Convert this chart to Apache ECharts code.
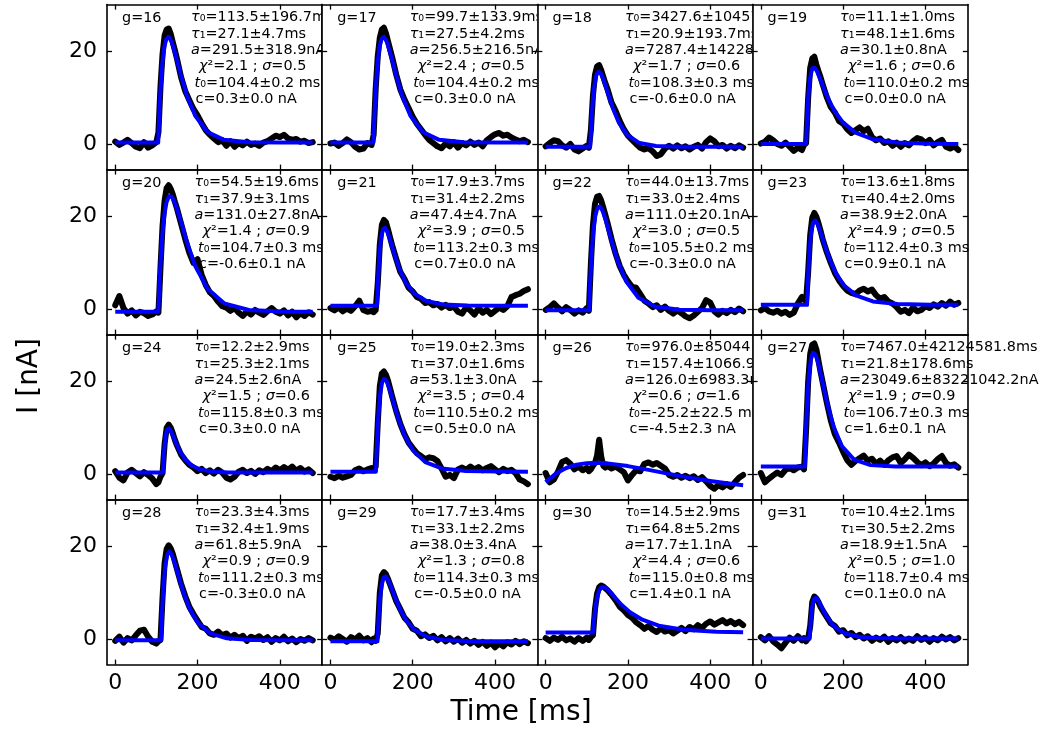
<!DOCTYPE html>
<html><head><meta charset="utf-8">
<script src="https://cdn.jsdelivr.net/npm/echarts@6/dist/echarts.min.js"></script>
<style>html,body{margin:0;padding:0;background:#fff}#c{width:1042px;height:731px}</style>
</head><body><div id="c"></div>
<script>
// ---- sample times (ms) shared by all measured traces ----
const times = [0,10,20,30,40,50,60,70,80,90,100,105,110,115,120,125,130,135,140,145,150,160,170,180,190,200,210,220,230,240,250,260,270,280,290,300,310,320,330,340,350,360,370,380,390,400,410,420,430,440,450,460,470,480];
const xTicks = [0,200,400];
const yTicks = [0,20];
const gNames = ['g=16','g=17','g=18','g=19','g=20','g=21','g=22','g=23','g=24','g=25','g=26','g=27','g=28','g=29','g=30','g=31'];

const d16 = [0.5,-0.2,0.3,0.9,0.2,-0.6,-0.9,0.4,-0.8,-0.3,0.4, 2.5,12.5,19.5,23.5,24.8,25.0,23.8,22.0,20.3,18.5, 14.5,11.5,9.5,7.6,6.2,4.5,3.0,2.0,1.2,0.4,0.8,-0.4,0.6,-0.6,0.2,-0.3,0.5,-0.2,0.1,-0.4,0.3,0.6,1.2,1.8,1.5,2.0,1.2,0.9,1.1,0.5,0.7,0.2,0.4];
const d17 = [0.1,0.3,-0.4,0.2,1.0,0.4,-0.6,-1.2,-1.0,0.2,-0.2, 2.0,12.0,19.0,23.0,24.8,25.2,24.0,22.2,20.5,18.8, 15.0,11.8,9.6,7.8,5.9,4.4,3.2,2.0,0.9,0.2,-0.5,-0.9,0.1,-0.5,0.4,-0.8,0.2,-0.3,0.5,-0.2,0.3,-0.5,0.8,1.5,2.1,2.4,1.8,2.0,1.4,1.0,0.6,0.9,0.4];
const d18 = [-0.5,0.2,0.8,0.6,-0.3,-0.8,0.0,-1.2,-1.6,-1.0,-0.4, -0.8,3.0,10.5,15.0,16.8,17.1,16.0,14.6,13.2,12.0, 9.0,7.2,5.0,3.2,1.8,0.9,0.0,-0.8,-1.2,-0.9,-1.6,-2.6,-2.2,-1.0,-0.4,-1.0,-0.3,-0.9,-0.5,-1.2,-0.6,-0.2,-1.0,0.4,1.2,0.6,-0.5,-0.2,-1.0,-0.4,-0.9,-0.3,-0.8];
const d19 = [0.1,0.5,1.4,0.8,0.0,-0.4,0.3,-0.6,-1.5,-0.8,-1.3, -0.2,0.2,10.0,16.5,18.5,18.9,17.2,15.8,14.5,13.0, 10.2,8.0,6.8,5.0,4.4,3.2,2.4,3.0,3.6,2.8,3.3,1.5,0.8,1.2,0.2,0.6,-0.4,0.3,-0.6,0.2,-0.3,0.6,1.3,1.0,0.2,0.9,-0.3,0.4,0.9,-0.6,-1.0,-0.5,-1.3];
const d20 = [0.8,2.8,0.2,-1.0,-0.3,-1.4,-0.6,-0.9,-1.5,-1.2,-0.5, -0.8,9.0,18.0,23.5,26.2,26.8,26.0,24.8,23.2,21.8, 18.5,15.2,12.2,10.0,10.8,7.4,5.2,3.6,2.8,1.6,0.6,0.3,-0.4,0.2,-0.8,-1.5,-0.5,-1.2,-0.2,-0.8,-1.3,-0.5,0.2,-0.6,-1.0,-0.3,-1.4,-0.6,-1.8,-0.9,-1.5,-0.7,-1.2];
const d21 = [0.2,-0.3,0.3,-0.5,0.1,-0.4,0.6,1.8,-0.2,-0.6,-0.4, -0.7,-0.2,5.5,14.0,18.2,19.3,18.8,17.2,15.5,13.8, 10.8,8.0,6.5,4.6,3.8,2.6,2.2,1.3,1.5,0.8,1.1,0.3,0.9,0.2,0.5,-0.6,-1.0,0.4,-0.3,-1.2,0.2,-0.8,-0.2,-1.1,-0.4,0.3,-0.2,0.6,2.6,3.0,3.3,3.9,4.3];
const d22 = [-0.2,0.4,1.2,0.3,-0.5,0.4,-0.2,-1.0,-0.3,-0.8,0.2, -0.4,9.8,18.2,22.8,24.3,24.5,23.5,22.0,20.4,18.8, 15.2,12.0,9.3,7.4,6.0,4.8,4.6,3.2,1.8,1.2,0.4,0.8,-0.2,0.5,-0.4,-1.0,-0.3,-0.9,-1.6,-2.0,-1.4,-0.6,0.2,1.9,1.4,-0.5,-1.2,-0.4,-0.9,-0.2,-0.7,0.1,-0.5];
const d23 = [-0.3,0.2,-0.5,-0.8,-0.4,-1.0,-0.6,-1.3,-0.8,1.2,2.6, 2.0,1.8,8.0,16.0,19.8,20.8,20.0,18.6,17.0,15.2, 12.4,10.0,7.8,6.2,5.0,4.0,3.5,3.2,4.0,4.4,3.8,4.2,3.0,2.2,2.6,1.6,1.2,0.4,-0.6,-0.2,-0.9,0.3,-0.5,-0.2,0.6,0.2,1.0,0.5,1.3,0.7,1.6,0.9,1.3];
const d24 = [0.6,-0.8,-1.4,0.3,0.9,0.2,-0.5,0.4,-0.2,-1.0,-2.2, -1.8,-0.6,0.2,6.5,10.0,10.7,10.0,8.8,7.4,6.2, 4.2,3.0,2.0,1.4,0.6,1.1,0.2,0.8,0.1,0.9,0.3,-0.8,-1.2,-0.6,0.5,0.9,0.2,0.7,0.0,0.8,0.4,1.1,0.6,1.4,0.8,1.5,0.9,1.6,0.7,1.3,0.5,1.0,0.2];
const d25 = [-0.6,-0.9,-0.4,-0.8,-0.5,-0.2,0.8,1.2,0.6,1.0,1.3, 0.9,1.6,11.0,19.0,21.8,22.2,21.5,20.2,18.5,16.8, 13.6,10.8,8.6,6.8,5.6,4.5,3.9,3.2,3.6,3.4,2.8,1.2,-0.6,-0.2,-0.9,1.0,1.4,0.9,1.6,1.0,1.5,0.8,1.3,1.7,1.0,0.4,1.1,0.6,0.9,0.2,-1.2,-1.6,-2.2];
const d26 = [0.2,-1.8,-1.2,0.5,2.6,3.0,2.2,1.0,1.6,0.8,1.3, 0.6,1.0,1.8,2.4,4.0,7.4,3.8,1.8,1.4,1.8, 1.2,1.6,1.0,0.4,-1.4,-0.2,0.8,0.6,2.2,2.5,2.0,2.4,1.8,1.2,-0.2,-0.6,-0.2,-0.8,-0.4,-0.9,-0.5,-1.3,-0.7,-1.6,-2.6,-3.2,-2.4,-2.9,-2.2,-2.8,-1.8,-0.8,-0.2];
const d27 = [0.2,-1.8,-1.0,-0.3,0.3,-0.2,0.9,1.3,0.8,1.4,1.6, 1.0,9.5,20.0,26.0,28.0,28.3,27.0,24.6,22.2,20.0, 15.6,11.6,8.6,6.8,4.8,3.0,2.0,2.8,3.4,4.0,2.9,3.3,2.2,2.9,2.0,3.0,3.6,3.9,2.4,3.2,4.2,3.5,2.6,1.9,2.5,1.7,2.3,3.2,3.9,2.4,1.8,2.1,1.4];
const d28 = [-0.4,0.5,-0.8,0.2,-0.3,0.8,1.8,2.0,0.5,-0.6,-1.0, -0.5,-0.2,9.0,16.5,19.5,20.3,19.6,18.4,16.8,15.2, 12.0,9.3,7.0,5.4,4.0,2.6,2.2,1.2,0.9,1.6,0.8,1.2,0.3,0.9,0.2,0.7,-0.4,0.5,0.1,0.6,-0.2,0.4,-0.6,0.2,-0.3,0.5,-0.5,0.1,-0.7,0.0,-0.4,0.2,-0.3];
const d29 = [0.3,-0.2,0.6,0.0,-0.6,0.4,-0.1,0.7,-0.3,0.2,-0.7, 0.1,-0.4,1.2,10.0,13.8,14.5,14.0,13.0,11.8,10.6, 8.2,6.4,4.6,3.6,2.2,1.8,0.6,1.0,0.2,0.7,-0.3,0.4,-0.5,0.2,-0.6,0.1,-0.8,-0.2,-1.0,-0.4,-1.3,-0.6,-1.5,-0.8,-1.8,-1.0,-1.6,-0.7,-1.2,-0.4,-1.1,-0.5,-0.9];
const d30 = [0.2,-0.4,0.3,-0.2,0.5,-0.3,0.1,-0.6,0.2,-0.4,0.3, -0.2,0.4,0.8,6.5,9.8,11.2,11.6,11.4,11.0,10.6, 9.6,8.4,7.0,6.2,5.2,4.6,3.6,3.0,2.2,2.8,2.0,1.5,2.3,1.6,1.9,1.2,1.8,2.4,1.7,2.6,2.1,3.0,2.4,3.3,3.8,3.1,3.6,4.1,3.4,3.9,3.2,3.7,3.0];
const d31 = [0.4,-0.3,0.6,-0.5,-1.2,-2.0,-0.8,0.3,-0.4,0.6,-0.3, 0.2,-0.5,0.1,2.8,8.0,9.2,8.8,8.0,7.0,6.2, 4.8,3.4,2.8,1.6,1.9,0.8,1.3,0.4,0.9,0.1,0.6,-0.4,0.3,-0.2,0.5,-0.6,0.2,-0.3,0.4,-0.5,0.1,-0.4,0.6,-0.2,0.3,-0.6,0.2,-0.3,0.5,-0.1,0.4,-0.3,0.2];

// ---- fitted curves (blue), values read at t0 + offset, last value at t=480 ----
const fitOffsets = [0,3,6,10,15,20,26,33,42,55,70,90,120,160,220,300];
const fitEnd = 480;
const fitT0 = [104.4,104.4,108.3,110.0,104.7,113.2,105.5,112.4,115.8,110.5,-25.2,106.7,111.2,114.3,115.0,118.7];
const f16 = [0.3,7.1,12.3,17.3,21.05,22.8,23.2,22.1,19.4,15.0,10.4,6.1,2.6,0.9,0.37,0.3,0.3];
const f17 = [0.3,7.1,12.3,17.3,21.1,22.8,23.2,22.1,19.4,15.0,10.4,6.1,2.6,0.9,0.38,0.3,0.3];
const f18 = [-0.6,4.92,8.97,12.56,14.93,15.68,15.27,13.8,11.29,7.75,4.57,1.95,0.2,-0.44,-0.59,-0.6,-0.6];
const f19 = [0,6.7,11.1,14.52,16.33,16.58,15.85,14.38,12.28,9.53,7.01,4.63,2.48,1.08,0.31,0.06,0.01];
const f20 = [-0.6,5.88,11.05,16.26,20.62,23.14,24.43,24.31,22.64,18.91,14.34,9.25,4.31,1.22,-0.21,-0.55,-0.6];
const f21 = [0.7,7.35,11.85,15.46,17.38,17.57,16.56,14.65,11.95,8.54,5.7,3.38,1.74,0.99,0.74,0.7,0.7];
const f22 = [-0.3,6.38,11.5,16.37,20.06,21.81,22.23,21.25,18.82,14.66,10.3,6.02,2.43,0.55,-0.16,-0.29,-0.3];
const f23 = [0.9,8.05,12.86,16.71,18.83,19.16,18.32,16.57,14.03,10.7,7.74,5.09,2.89,1.64,1.07,0.92,0.9];
const f24 = [0.3,5.04,7.81,9.53,9.88,9.26,8.03,6.5,4.81,3.06,1.84,1.0,0.51,0.34,0.3,0.3,0.3];
const f25 = [0.5,7.65,12.73,17.08,19.83,20.63,20.11,18.43,15.7,11.85,8.31,5.12,2.57,1.2,0.64,0.52,0.5];
const f27 = [1.6,9.67,15.66,21.1,24.84,26.24,25.91,23.97,20.42,15.17,10.27,6.05,3.1,1.92,1.63,1.6,1.6];
const f28 = [-0.3,6.51,11.36,15.54,18.17,18.91,18.32,16.6,13.82,9.95,6.47,3.46,1.21,0.14,-0.23,-0.3,-0.3];
const f29 = [-0.5,4.91,8.61,11.63,13.3,13.56,12.84,11.35,9.19,6.39,4.0,1.99,0.51,-0.2,-0.45,-0.5,-0.5];
const f30 = [1.4,4.56,6.87,8.96,10.45,11.13,11.28,10.94,10.15,8.8,7.36,5.81,4.18,2.9,1.99,1.57,1.46];
const f31 = [0.1,4.39,6.91,8.51,8.93,8.48,7.5,6.24,4.78,3.2,2.0,1.09,0.47,0.2,0.11,0.1,0.1];
const fit26Times = [0,25,50,75,100,125,150,200,250,300,350,400,450,480];
const f26 = [-1.76,0.09,1.30,2.01,2.35,2.42,2.30,1.71,0.89,0.02,-0.79,-1.51,-2.13,-2.44];

// ---- annotation texts ----
const tau0Txt = ['113.5±196.7','99.7±133.9','3427.6±104573.1','11.1±1.0','54.5±19.6','17.9±3.7','44.0±13.7','13.6±1.8','12.2±2.9','19.0±2.3','976.0±85044.7','7467.0±42124581.8','23.3±4.3','17.7±3.4','14.5±2.9','10.4±2.1'];
const tau1Txt = ['27.1±4.7','27.5±4.2','20.9±193.7','48.1±1.6','37.9±3.1','31.4±2.2','33.0±2.4','40.4±2.0','25.3±2.1','37.0±1.6','157.4±1066.9','21.8±178.6','32.4±1.9','33.1±2.2','64.8±5.2','30.5±2.2'];
const aTxt = ['291.5±318.9','256.5±216.5','7287.4±142285.6','30.1±0.8','131.0±27.8','47.4±4.7','111.0±20.1','38.9±2.0','24.5±2.6','53.1±3.0','126.0±6983.3','23049.6±83221042.2','61.8±5.9','38.0±3.4','17.7±1.1','18.9±1.5'];
const chiTxt = ['2.1','2.4','1.7','1.6','1.4','3.9','3.0','4.9','1.5','3.5','0.6','1.9','0.9','1.3','4.4','0.5'];
const sigmaTxt = ['0.5','0.5','0.6','0.6','0.9','0.5','0.5','0.5','0.6','0.4','1.6','0.9','0.9','0.8','0.6','1.0'];
const t0Txt = ['104.4±0.2','104.4±0.2','108.3±0.3','110.0±0.2','104.7±0.3','113.2±0.3','105.5±0.2','112.4±0.3','115.8±0.3','110.5±0.2','-25.2±22.5','106.7±0.3','111.2±0.3','114.3±0.3','115.0±0.8','118.7±0.4'];
const cTxt = ['0.3±0.0','0.3±0.0','-0.6±0.0','0.0±0.0','-0.6±0.1','0.7±0.0','-0.3±0.0','0.9±0.1','0.3±0.0','0.5±0.0','-4.5±2.3','1.6±0.1','-0.3±0.0','-0.5±0.0','1.4±0.1','0.1±0.0'];

// ---- layout ----
const L0 = 107, CW = 215.2, T0 = 4.6, RH = 165;
const XMIN = -20, XMAX = 503, YMIN = -5.55, YMAX = 30.2;
const FONT = 'DejaVu Sans';
const TXT = 14.4;

const dataSets = [d16,d17,d18,d19,d20,d21,d22,d23,d24,d25,d26,d27,d28,d29,d30,d31];
const fitSets = [f16,f17,f18,f19,f20,f21,f22,f23,f24,f25,null,f27,f28,f29,f30,f31];

function mkX(i, pos, showLabel, z) {
  return {type:'value', gridIndex:i, position:pos, min:XMIN, max:XMAX, z:z,
    axisLine:{show:true, onZero:false, lineStyle:{color:'#000', width:1.6}},
    axisTick:{show:true, inside:true, length:5, customValues:xTicks, lineStyle:{color:'#000', width:1.3}},
    axisLabel:{show:showLabel, customValues:xTicks, color:'#000', fontSize:22, fontFamily:FONT, margin:8},
    splitLine:{show:false}};
}
function mkY(i, pos, showLabel, z) {
  return {type:'value', gridIndex:i, position:pos, min:YMIN, max:YMAX, z:z,
    axisLine:{show:true, onZero:false, lineStyle:{color:'#000', width:1.6}},
    axisTick:{show:true, inside:true, length:5, customValues:yTicks, lineStyle:{color:'#000', width:1.3}},
    axisLabel:{show:showLabel, customValues:yTicks, color:'#000', fontSize:22, fontFamily:FONT, margin:10},
    splitLine:{show:false}};
}
const rich = {
  i:{fontStyle:'italic', fontSize:TXT, fontFamily:FONT, fill:'#000'}
};
function txt(x, y, s, z) {
  return {type:'text', x:x, y:y, z:z, silent:true,
    style:{text:s, fill:'#000', fontSize:TXT, fontFamily:FONT, textAlign:'left', textVerticalAlign:'middle', align:'left', verticalAlign:'middle', rich:rich}};
}

const grids = [], xAxes = [], yAxes = [], series = [], graphics = [];
const lineDy = [13, 29.3, 45.6, 61.9, 78.2, 94.5];
const lineDx = [0, 0, 0, 8, 3.5, 4.5];
for (let i = 0; i < 16; i++) {
  const r = Math.floor(i / 4), c = i % 4;
  const left = L0 + c * CW, top = T0 + r * RH;
  const zb = 10 * c;
  grids.push({left:left, top:top, width:CW, height:RH});
  xAxes.push(mkX(i, 'bottom', r === 3, zb + 5));
  xAxes.push(mkX(i, 'top', false, zb + 5));
  yAxes.push(mkY(i, 'left', c === 0, zb + 5));
  yAxes.push(mkY(i, 'right', false, zb + 5));
  const d = dataSets[i];
  series.push({type:'line', xAxisIndex:2*i, yAxisIndex:2*i, symbol:'none', silent:true, z:zb+3,
    data: times.map((t, k) => [t, d[k]]),
    lineStyle:{color:'#000', width:6, cap:'round', join:'round'}});
  let fd;
  if (i === 10) {
    fd = fit26Times.map((t, k) => [t, f26[k]]);
  } else {
    const f = fitSets[i], t0 = fitT0[i];
    fd = [[0, f[0]]].concat(fitOffsets.map((s, k) => [t0 + s, f[k]])).concat([[fitEnd, f[f.length - 1]]]);
  }
  series.push({type:'line', xAxisIndex:2*i, yAxisIndex:2*i, symbol:'none', silent:true, z:zb+4,
    data: fd, lineStyle:{color:'#0000ff', width:4, join:'round'}});
  // white panel background (hides text overflowing from the panel on the left)
  graphics.push({type:'rect', silent:true, z:zb+1, shape:{x:left, y:top, width:CW, height:RH}, style:{fill:'#fff'}});
  const tx = left + (i === 0 ? 84 : 87.5);
  const lines = [
    '{i|τ}₀=' + tau0Txt[i] + 'ms',
    '{i|τ}₁=' + tau1Txt[i] + 'ms',
    '{i|a}=' + aTxt[i] + 'nA',
    '{i|χ}²=' + chiTxt[i] + ' ; {i|σ}=' + sigmaTxt[i],
    '{i|t}₀=' + t0Txt[i] + ' ms',
    'c=' + cTxt[i] + ' nA'
  ];
  graphics.push(txt(left + 15, top + 13.5, gNames[i], zb + 2));
  lines.forEach((s, k) => graphics.push(txt(tx + lineDx[k], top + lineDy[k], s, zb + 2)));
}
graphics.push({type:'text', x:521, y:713, z:50, silent:true,
  style:{text:'Time [ms]', fill:'#000', fontSize:28, fontFamily:FONT, textAlign:'center', textVerticalAlign:'middle', align:'center', verticalAlign:'middle'}});
graphics.push({type:'text', x:30, y:376, rotation:Math.PI/2, z:50, silent:true,
  style:{text:'I [nA]', fill:'#000', fontSize:28, fontFamily:FONT, textAlign:'center', textVerticalAlign:'middle', align:'center', verticalAlign:'middle'}});

const chart = echarts.init(document.getElementById('c'), null, {renderer:'canvas'});
chart.setOption({
  animation:false,
  backgroundColor:'#fff',
  textStyle:{fontFamily:FONT},
  grid:grids, xAxis:xAxes, yAxis:yAxes, series:series, graphic:graphics
});
</script>
</body></html>
